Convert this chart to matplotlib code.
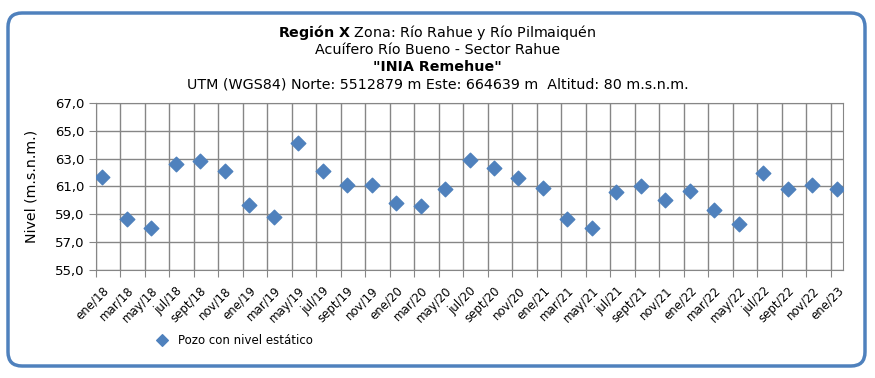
import numpy as np
import matplotlib.pyplot as plt
from matplotlib.patches import FancyBboxPatch

# bi-monthly readings, ene/18 .. ene/23
labels = ['ene/18', 'mar/18', 'may/18', 'jul/18', 'sept/18', 'nov/18',
          'ene/19', 'mar/19', 'may/19', 'jul/19', 'sept/19', 'nov/19',
          'ene/20', 'mar/20', 'may/20', 'jul/20', 'sept/20', 'nov/20',
          'ene/21', 'mar/21', 'may/21', 'jul/21', 'sept/21', 'nov/21',
          'ene/22', 'mar/22', 'may/22', 'jul/22', 'sept/22', 'nov/22',
          'ene/23']
nivel = [61.7, 58.7, 58.0, 62.6, 62.8, 62.1,
         59.7, 58.8, 64.1, 62.1, 61.1, 61.1,
         59.8, 59.6, 60.8, 62.9, 62.3, 61.6,
         60.9, 58.7, 58.0, 60.6, 61.0, 60.0,
         60.7, 59.3, 58.3, 62.0, 60.8, 61.1,
         60.8]
yticks = [55, 57, 59, 61, 63, 65, 67]

blue = '#4F81BD'
grid = '#868686'

fig = plt.figure(figsize=(8.75, 3.78), dpi=100)

# rounded blue frame
frame = FancyBboxPatch((8 / 875, 12 / 378), 857 / 875, 353 / 378,
                       boxstyle='round,pad=0,rounding_size=0.016',
                       transform=fig.transFigure, fill=False,
                       edgecolor=blue, linewidth=2.5, mutation_aspect=875 / 378)
fig.patches.append(frame)

# title block
fs = 10.3
fig.text(0.5, 1 - 32 / 378, r'$\bf{Región\ X}$' + ' Zona: Río Rahue y Río Pilmaiquén',
         ha='center', va='center', fontsize=fs)
fig.text(0.5, 1 - 50 / 378, 'Acuífero Río Bueno - Sector Rahue',
         ha='center', va='center', fontsize=fs)
fig.text(0.5, 1 - 67 / 378, '"INIA Remehue"', ha='center', va='center',
         fontsize=fs, fontweight='bold')
fig.text(0.5, 1 - 85 / 378,
         'UTM (WGS84) Norte: 5512879 m Este: 664639 m  Altitud: 80 m.s.n.m.',
         ha='center', va='center', fontsize=fs)

ax = fig.add_axes([96 / 875, 1 - 270 / 378, (843 - 96) / 875, (270 - 103) / 378])

x = np.arange(len(labels)) * 2 + 0.5
ax.scatter(x, nivel, marker='D', s=55, color=blue, zorder=3,
           label='Pozo con nivel estático')

ax.set_xlim(0, 61)
ax.set_ylim(55, 67)
ax.set_xticks(np.arange(0, 61, 2))
ax.set_xticklabels([])
ax.set_xticks(x, minor=True)
ax.set_xticklabels(labels, minor=True, rotation=45, ha='right',
                   rotation_mode='anchor', fontsize=8.5)
ax.tick_params(axis='x', which='minor', length=0, pad=10)
ax.tick_params(axis='x', which='major', length=5, color=grid)
ax.set_yticks(yticks)
ax.set_yticklabels([f'{v:.1f}'.replace('.', ',') for v in yticks], fontsize=9.5)
ax.tick_params(axis='y', length=5, color=grid)
ax.grid(True, which='major', color=grid, linewidth=1)
for s in ax.spines.values():
    s.set_color(grid)
ax.set_ylabel('Nivel (m.s.n.m.)', fontsize=10.2, labelpad=12)

ax.legend(loc='center left', bbox_to_anchor=(140 / 875, 1 - 340 / 378),
          bbox_transform=fig.transFigure, frameon=False, fontsize=8.5,
          handletextpad=0.3, scatterpoints=1, markerscale=0.8)

fig.savefig('out.png', dpi=100)
